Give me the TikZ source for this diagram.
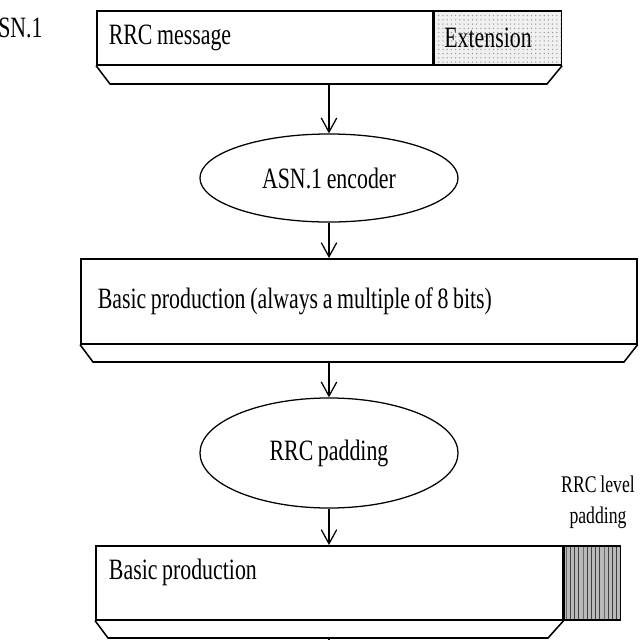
\documentclass[tikz,border=0pt]{standalone}
\usepackage{fontspec}
\setmainfont{Liberation Serif}[FakeStretch=0.74,WordSpace=0.85]
\usetikzlibrary{arrows.meta,shapes.geometric,patterns,positioning}

\begin{document}
\begin{tikzpicture}[x=0.025cm,y=-0.025cm]

\useasboundingbox (0,0) rectangle (640,640);
\clip (0,0) rectangle (640,640);

\tikzstyle{every node}=[font=\fontsize{21}{25}\selectfont,inner sep=0pt];
\tikzstyle{msgbox}=[draw,line width=1.1pt,rectangle,align=flush left];
\tikzstyle{codec}=[draw,line width=0.9pt,ellipse,minimum width=6.45cm];
\tikzstyle{flow}=[line width=0.9pt,-{Straight Barb[length=10pt,width=11pt,line width=0.9pt]}];
\tikzstyle{shelf}=[line width=1.1pt];

% cut off label at the left
\node (asn) [anchor=west] at (-2,28) {SN.1};

% RRC message with its extension
\node (rrc) [msgbox,anchor=north west,minimum height=1.35cm,inner xsep=0.3cm,text width=7.8cm] at (96,10) {RRC message};
\node (ext) [msgbox,right=0pt of rrc,minimum width=3.175cm,minimum height=1.35cm,align=center,
  preaction={fill=gray!12},pattern=dots,pattern color=gray!85] {\hspace*{-14pt}Extension};
\draw[shelf] (rrc.south west) -- (110,84) -- (547,84) -- (ext.south east);
\coordinate (s1) at (329,84);

% encoder
\node (enc) [codec,minimum height=2.2cm] at (329,178) {ASN.1 encoder};

% basic production
\node (prod) [msgbox,anchor=north west,minimum height=2.125cm,inner xsep=0.425cm,text width=13.05cm] at (80,258) {Basic production (always a multiple of 8 bits)};
\draw[shelf] (prod.south west) -- (93,362) -- (624,362) -- (prod.south east);
\coordinate (s2) at (329,362);

% padding
\node (pad) [codec,minimum height=2.75cm] at (329,453) {RRC padding};
\node (padlbl) [font=\fontsize{17}{22}\selectfont,align=center] at (598,502) {RRC level\\padding};

% padded production
\node (out) [msgbox,anchor=north west,minimum height=1.85cm,inner xsep=0.33cm,text width=11.015cm] at (95,545) {Basic production\\[-13pt]\strut};
\node (bits) [msgbox,right=0pt of out,minimum width=1.4cm,minimum height=1.85cm,
  preaction={fill=gray!55},pattern=vertical lines,pattern color=black!75] {};
\draw[shelf] (out.south west) -- (108,638) -- (548,638) -- (out.south east);
\coordinate (s3) at (329,638);

% Flow between the steps
\draw[flow] (s1) -- (enc);
\draw[flow] (enc) -- (enc |- prod.north);
\draw[flow] (s2) -- (pad);
\draw[flow] (pad) -- (pad |- out.north);
\draw[flow] (s3) -- ++(0,30);

\end{tikzpicture}
\end{document}
